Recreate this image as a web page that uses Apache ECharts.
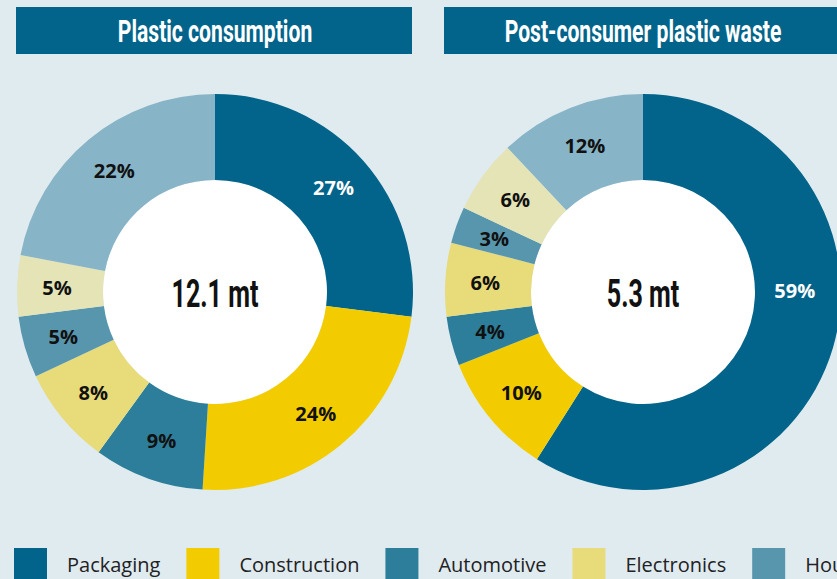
<!DOCTYPE html>
<html>
<head>
<meta charset="utf-8">
<script src="https://cdn.jsdelivr.net/npm/echarts@6/dist/echarts.min.js"></script>
<style>
  html, body { margin: 0; padding: 0; background: #e0ebf0; }
  #chart { width: 837px; height: 579px; }
</style>
</head>
<body>
<div id="chart"></div>
<script>
// categories (legend order)
const categories = ['Packaging', 'Construction', 'Automotive', 'Electronics', 'Household', 'Agriculture', 'Others']
// colours per category
const colors = ['#02648a', '#f3cc00', '#2d7e9a', '#e8db79', '#5896ae', '#e4e4b6', '#87b4c6']

// shares in %
const consumption = [27, 24, 9, 8, 5, 5, 22]
const waste = [59, 10, 4, 6, 3, 6, 12]

// totals shown in the middle (million tonnes)
const totals = [12.1, 5.3]
const titles = ['Plastic consumption', 'Post-consumer plastic waste']

const centers = [[215, 292], [643, 292]]

const chart = echarts.init(document.getElementById('chart'), null, { renderer: 'svg' })

const ringSeries = (values, i) => ({
  type: 'pie',
  name: titles[i],
  center: centers[i],
  radius: [112, 198],
  startAngle: 90,
  clockwise: true,
  silent: true,
  labelLine: { show: false },
  label: {
    show: true,
    position: 'inside',
    formatter: '{c}%',
    fontFamily: '"Open Sans", sans-serif',
    fontWeight: 'bold',
    fontSize: 20,
    lineHeight: 23,
    color: '#111'
  },
  data: values.map((v, k) => {
    const item = {
      name: categories[k],
      value: v,
      itemStyle: { color: colors[k] }
    }
    if (k === 0) {
      item.label = { color: '#fff' }
      // big slice on the right: label sits level with the centre
      if (v > 50) item.label.formatter = '{c}%\n \n \n \n '
    }
    return item
  })
})

// white disc in the middle of each ring
const discSeries = (i) => ({
  type: 'pie',
  center: centers[i],
  radius: [0, 112],
  silent: true,
  label: { show: false },
  labelLine: { show: false },
  itemStyle: { color: '#fff' },
  data: [{ value: 1, name: 'total' }]
})

// condensed look: no narrow font installed, so squeeze horizontally
const squeezed = (text, x, y, size, fill) => ({
  type: 'text',
  x: x,
  y: y,
  scaleX: 0.66,
  z: 10,
  style: {
    text: text,
    align: 'center',
    verticalAlign: 'middle',
    fill: fill,
    font: 'bold ' + size + 'px Roboto, sans-serif'
  }
})

const titleGraphic = (i, x, w) => ([
  {
    type: 'rect',
    shape: { x: x, y: 7, width: w, height: 47 },
    style: { fill: '#02648a' }
  },
  squeezed(titles[i], centers[i][0], 31, 32, '#fff')
])

const centerGraphic = (i) => squeezed(totals[i] + ' mt', centers[i][0], 294, 38, '#111')

const option = {
  backgroundColor: '#e0ebf0',
  animation: false,
  graphic: [
    ...titleGraphic(0, 16, 396),
    ...titleGraphic(1, 444, 398),
    centerGraphic(0),
    centerGraphic(1)
  ],
  legend: {
    data: categories,
    left: 9,
    top: 543,
    width: 2000,
    itemWidth: 33,
    itemHeight: 33,
    itemGap: 26,
    icon: 'rect',
    selectedMode: false,
    textStyle: {
      fontFamily: '"Open Sans", sans-serif',
      fontSize: 20,
      color: '#222',
      padding: [0, 0, 0, 15]
    }
  },
  series: [
    discSeries(0),
    discSeries(1),
    ringSeries(consumption, 0),
    ringSeries(waste, 1)
  ]
}

chart.setOption(option)
</script>
</body>
</html>
